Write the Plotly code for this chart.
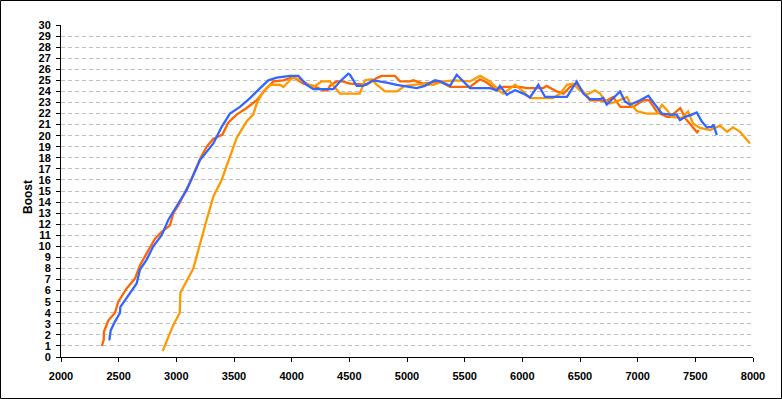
import plotly.graph_objects as go

rpm_a = [2353, 2370, 2373, 2410, 2468, 2497, 2569, 2642, 2685, 2743, 2815, 2873, 2945, 2974, 3017, 3061,
         3133, 3205, 3263, 3320, 3400, 3451, 3523, 3610, 3697, 3769, 3841, 3928, 4014, 4101, 4188, 4274,
         4310, 4332, 4390, 4440, 4506, 4650, 4737, 4780, 4896, 4940, 5026, 5055, 5142, 5286, 5373, 5546,
         5570, 5633, 5691, 5778, 5835, 5893, 5980, 6038, 6182, 6211, 6298, 6356, 6414, 6471, 6529, 6587,
         6674, 6720, 6787, 6850, 6960, 7050, 7100, 7170, 7255, 7280, 7370, 7410, 7515, 7530]
boost_a = [1.0, 1.5, 2.3, 3.3, 4.0, 5.0, 6.2, 7.1, 8.3, 9.4, 10.7, 11.3, 11.9, 13.0, 13.7, 14.6,
           16.1, 17.9, 19.0, 19.7, 20.1, 21.2, 21.9, 22.5, 23.2, 24.1, 24.9, 25.0, 25.3, 24.7, 24.5, 24.1,
           24.1, 24.5, 24.9, 24.9, 24.7, 24.6, 25.2, 25.4, 25.4, 24.9, 24.9, 25.0, 24.7, 24.9, 24.4, 24.4,
           24.6, 25.1, 24.8, 24.1, 24.4, 24.4, 24.4, 24.3, 24.3, 24.5, 24.0, 23.8, 24.4, 24.7, 24.0, 23.2,
           23.2, 23.1, 23.5, 22.6, 22.6, 23.2, 23.2, 22.1, 21.7, 21.7, 22.5, 21.6, 20.3, 20.5]

rpm_b = [2882, 2974, 3030, 3035, 3147, 3205, 3263, 3321, 3350, 3393, 3465, 3523, 3610, 3667, 3697, 3754,
         3812, 3899, 3928, 4014, 4101, 4188, 4260, 4332, 4419, 4480, 4590, 4636, 4694, 4737, 4810, 4911,
         4983, 5113, 5226, 5313, 5417, 5546, 5633, 5720, 5806, 5835, 5893, 5937, 6006, 6067, 6266, 6327,
         6387, 6440, 6500, 6561, 6630, 6674, 6717, 6760, 6821, 6908, 6934, 6995, 7082, 7168, 7211, 7255,
         7298, 7385, 7437, 7480, 7541, 7628, 7714, 7775, 7827, 7888, 7948, 7974]
boost_b = [0.55, 2.9, 4.0, 5.8, 8.0, 10.3, 12.4, 14.5, 15.1, 16.0, 18.1, 19.8, 21.3, 21.9, 22.9, 24.0,
           24.6, 24.6, 24.4, 25.3, 24.9, 24.4, 24.9, 24.9, 23.8, 23.8, 23.8, 25.0, 25.1, 24.6, 24.0, 24.0,
           24.5, 24.66, 24.6, 24.9, 25.0, 24.9, 25.4, 24.9, 24.0, 23.8, 24.3, 24.6, 24.0, 23.4, 23.4, 23.8,
           24.6, 24.7, 24.1, 23.7, 24.1, 23.8, 23.2, 22.9, 23.1, 23.5, 22.9, 22.2, 22.0, 22.0, 22.8, 22.3,
           21.7, 21.6, 22.2, 21.1, 20.7, 20.5, 20.9, 20.35, 20.75, 20.35, 19.6, 19.3]

rpm_c = [2419, 2431, 2468, 2512, 2514, 2598, 2656, 2685, 2743, 2800, 2873, 2931, 3003, 3090, 3205, 3321,
         3393, 3465, 3552, 3639, 3726, 3798, 3870, 3986, 4058, 4130, 4188, 4361, 4419, 4448, 4491, 4506,
         4564, 4621, 4708, 4824, 4911, 5084, 5156, 5243, 5286, 5373, 5431, 5546, 5720, 5778, 5806, 5865,
         5937, 6009, 6067, 6139, 6197, 6266, 6387, 6471, 6529, 6587, 6674, 6700, 6732, 6790, 6847, 6890,
         6934, 7021, 7093, 7151, 7209, 7280, 7339, 7367, 7411, 7469, 7512, 7555, 7599, 7642, 7657, 7686]
boost_c = [1.5, 2.4, 3.2, 4.0, 4.5, 5.75, 6.65, 7.9, 8.8, 10.0, 11.0, 12.4, 13.6, 15.1, 17.8, 19.3,
           20.8, 22.0, 22.6, 23.4, 24.3, 25.0, 25.25, 25.4, 25.4, 24.6, 24.2, 24.2, 24.9, 25.2, 25.6, 25.5,
           24.5, 24.5, 25.0, 24.8, 24.6, 24.3, 24.5, 25.0, 24.9, 24.5, 25.5, 24.3, 24.3, 24.1, 24.5, 23.7,
           24.1, 23.8, 23.45, 24.6, 23.5, 23.5, 23.5, 24.9, 23.8, 23.3, 23.3, 23.4, 22.8, 23.4, 24.0, 23.1,
           22.8, 23.2, 23.6, 22.8, 22.0, 21.9, 21.9, 21.4, 21.7, 21.9, 22.1, 21.3, 20.75, 20.8, 21.0, 20.05]

x_ticks = [2000, 2500, 3000, 3500, 4000, 4500, 5000, 5500, 6000, 6500, 7000, 7500, 8000]
y_ticks = list(range(0, 31))
y_title = "Boost"

series = [
    (rpm_a, boost_a, "#FF6600"),
    (rpm_b, boost_b, "#FF9900"),
    (rpm_c, boost_c, "#3366FF"),
]

fig = go.Figure()
for xs, ys, col in series:
    fig.add_trace(go.Scatter(x=xs, y=ys, mode="lines", line=dict(color=col, width=2.3),
                             showlegend=False, hoverinfo="skip"))

W, H = 782, 399
L, R, T, B = 61, 29, 25, 42
pw, ph = W - L - R, H - T - B
tickfont = dict(family="Liberation Sans Narrow, Arial Narrow, Liberation Sans, Arial", size=11,
                color="black", weight="bold")

fig.update_layout(
    width=W, height=H,
    margin=dict(l=L, r=R, t=T, b=B, pad=0),
    paper_bgcolor="white", plot_bgcolor="white",
    xaxis=dict(range=[2000, 8000], tickvals=x_ticks, ticktext=[str(v) for v in x_ticks],
               tickfont=tickfont,
               showgrid=False, zeroline=False, showline=True, linecolor="black", linewidth=1,
               ticks="outside", ticklen=4, tickcolor="black", tickwidth=1, fixedrange=True,
               ticklabelstandoff=5),
    yaxis=dict(range=[0, 30], tickvals=y_ticks, ticktext=[str(v) for v in y_ticks],
               tickfont=tickfont,
               showgrid=True, gridcolor="#C0C0C0", griddash="4px,3px", gridwidth=1,
               zeroline=False, showline=True, linecolor="black", linewidth=1,
               ticks="outside", ticklen=4, tickcolor="black", tickwidth=1, fixedrange=True,
               ticklabelstandoff=3),
    annotations=[dict(text=y_title, x=(28 - L) / pw, y=(357 - 197) / ph,
                      xref="paper", yref="paper", showarrow=False, textangle=-90,
                      xanchor="center", yanchor="middle",
                      font=dict(family="Liberation Sans, Arial", size=12, color="black",
                                weight="bold"))],
    shapes=[dict(type="rect", xref="paper", yref="paper",
                 x0=-(L - 0.5) / pw, x1=1 + (R - 0.5) / pw,
                 y0=-(B - 0.5) / ph, y1=1 + (T - 0.5) / ph,
                 line=dict(color="black", width=1), layer="above")],
)

fig.write_html("out.html")
